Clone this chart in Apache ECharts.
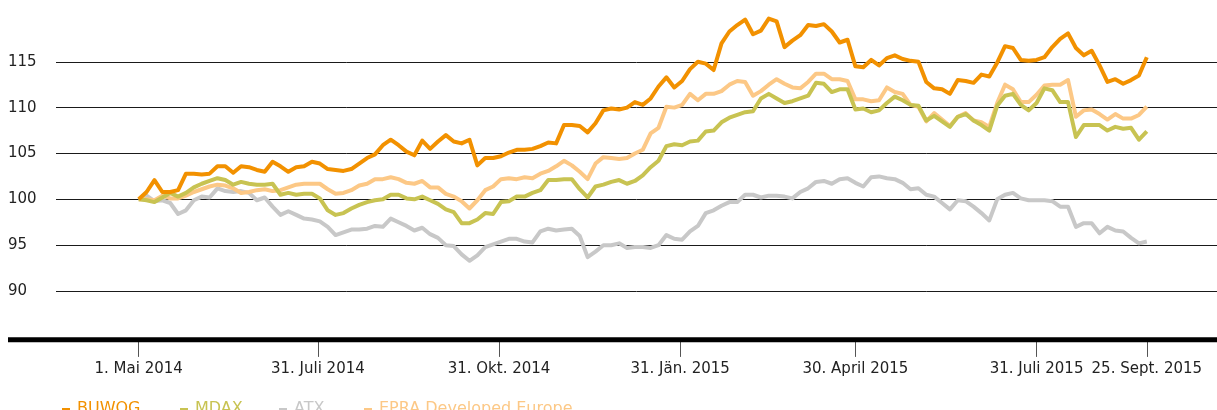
<!DOCTYPE html>
<html><head><meta charset="utf-8">
<script src="https://cdn.jsdelivr.net/npm/echarts@6/dist/echarts.min.js"></script>
<style>html,body{margin:0;padding:0;background:#fff}#c{width:1217px;height:410px}</style>
</head><body><div id="c"></div>
<script>
// Sampling: one value every 4 calendar days starting 1 May 2014 (index 100)
const startDate = '2014-05-01';
const stepDays = 4;
const tickDates = ['2014-05-01','2014-07-31','2014-10-31','2015-01-31','2015-04-30','2015-07-31','2015-09-25'];
const tickLabels = ['1. Mai 2014','31. Juli 2014','31. Okt. 2014','31. Jän. 2015','30. April 2015','31. Juli 2015','25. Sept. 2015'];
const seriesNames = ['BUWOG','MDAX','ATX','EPRA Developed Europe'];
const seriesColors = ['#f29100','#c8c352','#c8c8c8','#fcc886'];

const buwog = [100.0,100.8,102.1,100.8,100.8,101.0,102.8,102.8,102.7,102.8,103.6,103.6,102.9,103.6,103.5,103.2,103.0,104.1,103.6,103.0,103.5,103.6,104.1,103.9,103.3,103.2,103.1,103.3,103.9,104.5,104.9,105.9,106.5,105.9,105.2,104.8,106.4,105.5,106.3,107.0,106.3,106.1,106.5,103.7,104.5,104.5,104.7,105.1,105.4,105.4,105.5,105.8,106.2,106.1,108.1,108.1,108.0,107.3,108.3,109.7,109.9,109.8,110.0,110.6,110.3,111.0,112.3,113.3,112.2,112.9,114.2,115.0,114.8,114.1,117.0,118.3,119.0,119.6,118.0,118.4,119.7,119.4,116.6,117.3,117.9,119.0,118.9,119.1,118.3,117.1,117.4,114.5,114.4,115.2,114.6,115.4,115.7,115.3,115.1,115.0,112.8,112.1,112.0,111.5,113.0,112.9,112.7,113.6,113.4,114.9,116.7,116.5,115.2,115.1,115.2,115.5,116.6,117.5,118.1,116.5,115.7,116.2,114.6,112.8,113.1,112.6,113.0,113.5,115.5];
const mdax = [100.0,99.9,99.7,100.2,100.7,100.3,100.7,101.3,101.7,102.0,102.3,102.1,101.6,101.9,101.7,101.6,101.6,101.7,100.5,100.7,100.5,100.6,100.6,100.1,98.8,98.3,98.5,99.0,99.4,99.7,99.9,100.0,100.5,100.5,100.1,100.0,100.3,99.9,99.5,98.9,98.6,97.4,97.4,97.8,98.5,98.4,99.7,99.8,100.3,100.3,100.7,101.0,102.1,102.1,102.2,102.2,101.1,100.2,101.4,101.6,101.9,102.1,101.7,102.0,102.6,103.5,104.2,105.8,106.0,105.9,106.3,106.4,107.4,107.5,108.4,108.9,109.2,109.5,109.6,111.0,111.5,111.0,110.5,110.7,111.0,111.3,112.7,112.6,111.7,112.0,112.0,109.8,109.9,109.5,109.7,110.5,111.2,110.8,110.3,110.2,108.6,109.1,108.5,107.9,109.0,109.3,108.6,108.1,107.5,110.2,111.3,111.5,110.3,109.7,110.5,112.1,111.9,110.6,110.6,106.8,108.1,108.1,108.1,107.5,107.9,107.7,107.8,106.5,107.4];
const atx = [100.0,100.4,99.8,99.9,99.6,98.4,98.8,99.9,100.3,100.2,101.2,100.9,100.8,100.9,100.7,99.9,100.2,99.2,98.3,98.7,98.3,97.9,97.8,97.6,97.0,96.1,96.4,96.7,96.7,96.8,97.1,97.0,97.9,97.5,97.1,96.6,96.9,96.2,95.8,95.0,94.9,94.0,93.3,93.9,94.8,95.1,95.4,95.7,95.7,95.4,95.3,96.5,96.8,96.6,96.7,96.8,96.0,93.7,94.3,95.0,95.0,95.2,94.7,94.8,94.8,94.7,95.0,96.1,95.7,95.6,96.5,97.1,98.5,98.8,99.3,99.7,99.7,100.5,100.5,100.2,100.4,100.4,100.3,100.1,100.8,101.2,101.9,102.0,101.7,102.2,102.3,101.8,101.4,102.4,102.5,102.3,102.2,101.8,101.1,101.2,100.5,100.3,99.6,98.9,99.9,99.8,99.2,98.5,97.7,100.0,100.5,100.7,100.1,99.9,99.9,99.9,99.8,99.2,99.2,97.0,97.4,97.4,96.3,97.0,96.6,96.5,95.8,95.2,95.4];
const epra = [100.0,100.0,99.9,100.4,100.1,100.1,100.4,100.8,101.1,101.4,101.6,101.5,101.2,100.7,100.8,101.0,101.1,100.9,101.0,101.3,101.6,101.7,101.7,101.7,101.1,100.6,100.7,101.0,101.5,101.7,102.2,102.2,102.4,102.2,101.8,101.7,102.0,101.3,101.3,100.6,100.3,99.8,99.0,99.9,101.0,101.4,102.2,102.3,102.2,102.4,102.3,102.8,103.1,103.6,104.2,103.7,103.0,102.2,103.9,104.6,104.5,104.4,104.5,105.0,105.4,107.2,107.8,110.1,110.0,110.3,111.5,110.8,111.5,111.5,111.8,112.5,112.9,112.8,111.3,111.8,112.5,113.1,112.6,112.2,112.1,112.8,113.7,113.7,113.1,113.1,112.9,110.9,110.9,110.7,110.8,112.2,111.7,111.5,110.3,110.1,108.5,109.4,108.7,108.0,109.0,109.4,108.6,108.4,107.9,110.5,112.5,112.0,110.6,110.6,111.4,112.4,112.5,112.5,113.0,109.0,109.7,109.8,109.3,108.7,109.3,108.8,108.8,109.2,110.1];

const DAY = 86400000;
function dayNum(s, addDays) {
  const p = s.split('-').map(Number);
  return Math.round(Date.UTC(p[0], p[1] - 1, p[2]) / DAY) + (addDays || 0);
}
const dates = buwog.map((_, i) => dayNum(startDate, i * stepDays));
const tickDays = tickDates.map(d => dayNum(d));
const xMin = dayNum(startDate) - 42.0;
const xMax = dayNum('2015-09-25') + 35.65;

const valueSets = {'BUWOG': buwog, 'MDAX': mdax, 'ATX': atx, 'EPRA Developed Europe': epra};
const drawOrder = ['ATX','EPRA Developed Europe','MDAX','BUWOG'];
const FONT = 'DejaVu Sans';

const series = drawOrder.map(name => ({
  name: name,
  type: 'line',
  data: valueSets[name].map((v, i) => [dates[i], v]),
  showSymbol: false,
  symbol: 'none',
  lineStyle: {width: 4, color: seriesColors[seriesNames.indexOf(name)], join: 'round'},
  itemStyle: {color: seriesColors[seriesNames.indexOf(name)]},
  emphasis: {disabled: true}
}));

const legendLefts = [57, 175, 274, 359];
const legends = seriesNames.map((name, k) => ({
  data: [{name: name, textStyle: {color: seriesColors[k]}, itemStyle: {color: seriesColors[k]}}],
  left: legendLefts[k],
  top: 396,
  icon: 'rect',
  itemWidth: 8,
  itemHeight: 2,
  selectedMode: false,
  textStyle: {fontFamily: FONT, fontSize: 16, padding: [0, 0, 0, 2]}
}));

const chart = echarts.init(document.getElementById('c'), null, {renderer: 'canvas'});
chart.setOption({
  animation: false,
  backgroundColor: '#fff',
  grid: {left: 56, right: 0, top: 15.9, bottom: 410 - 336.9},
  legend: legends,
  xAxis: {
    type: 'value',
    min: xMin,
    max: xMax,
    offset: 5,
    axisLine: {show: false},
    splitLine: {show: false},
    axisTick: {show: true, length: 15, customValues: tickDays, lineStyle: {color: '#555', width: 1}},
    axisLabel: {
      customValues: tickDays,
      margin: 20,
      fontFamily: FONT,
      fontSize: 15,
      color: '#222',
      formatter: function (val) {
        const k = tickDays.indexOf(Math.round(+val));
        return k >= 0 ? tickLabels[k] : '';
      }
    }
  },
  yAxis: {
    type: 'value',
    min: 85,
    max: 120,
    interval: 5,
    axisLine: {show: false},
    axisTick: {show: false},
    splitLine: {show: true, showMinLine: false, showMaxLine: false, lineStyle: {color: '#1a1a1a', width: 1}},
    axisLabel: {showMinLabel: false, showMaxLabel: false, align: 'left', margin: 48, fontFamily: FONT, fontSize: 15, color: '#222'}
  },
  graphic: [{
    type: 'line',
    z: 100,
    shape: {x1: 8, y1: 339.7, x2: 1217, y2: 339.7},
    style: {stroke: '#000', lineWidth: 5}
  }],
  series: series
});
</script>
</body></html>
